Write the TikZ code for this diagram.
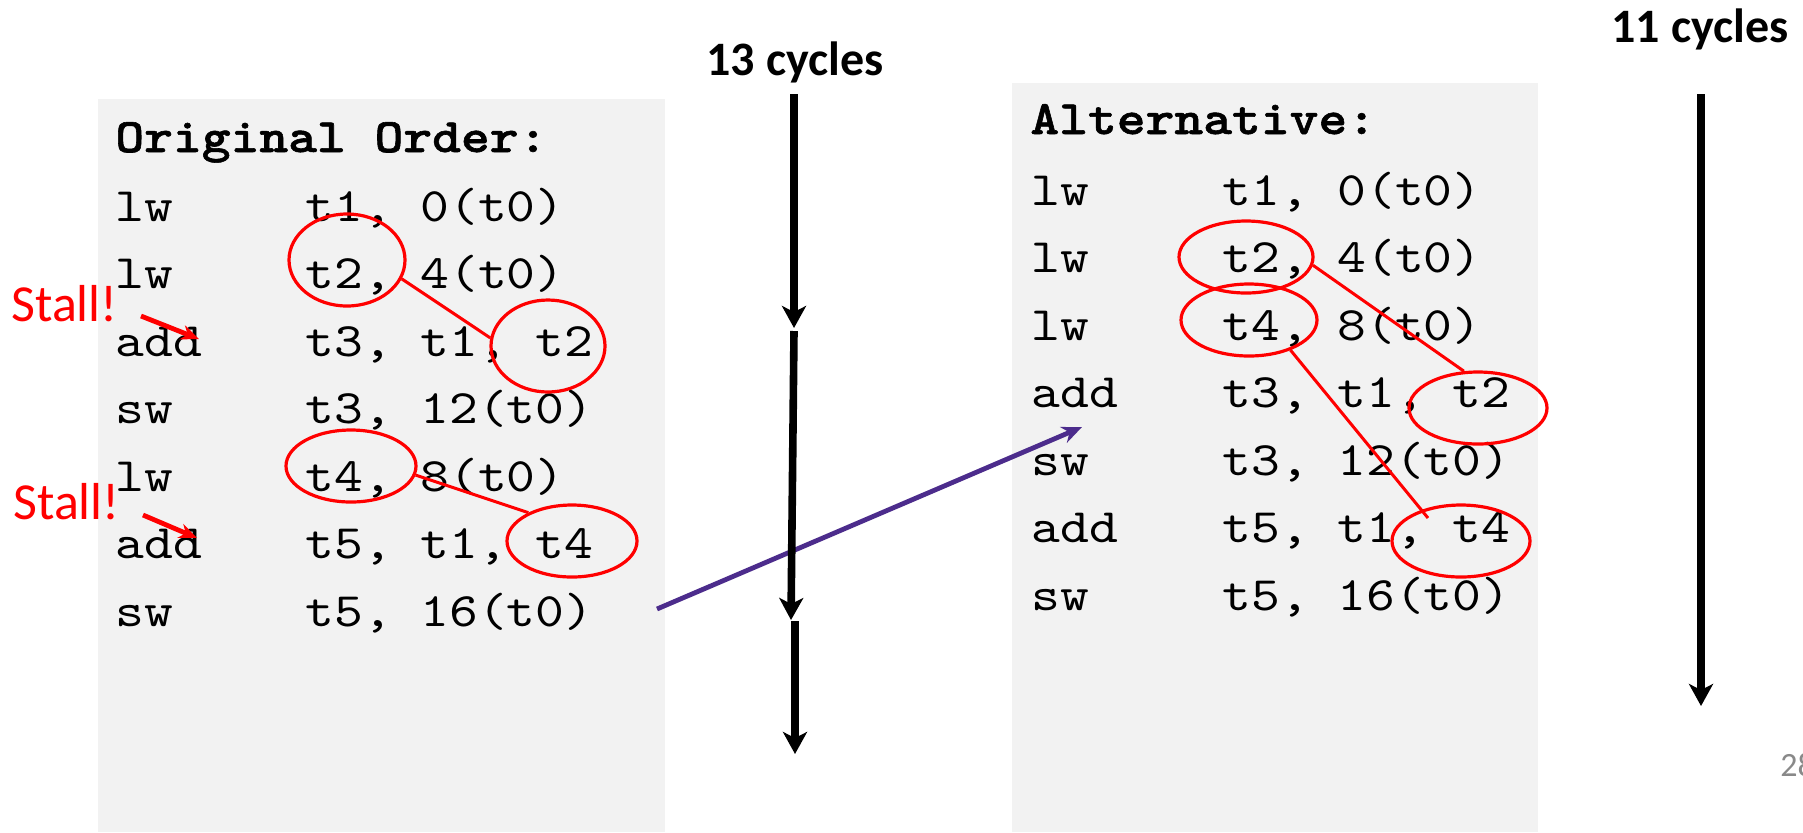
\documentclass[tikz,border=0pt]{standalone}
\usepackage{fontspec}
\setmonofont[FakeStretch=1.143,BoldFont=lmmonolt10-bold.otf,BoldFeatures={FakeBold=1.2}]{lmmono10-regular.otf}
\newfontfamily\slidefont{Carlito}
\usetikzlibrary{arrows.meta,shapes.geometric}
\definecolor{boxgray}{RGB}{242,242,242}
\definecolor{linkpurple}{RGB}{76,44,140}
\definecolor{pagegray}{RGB}{137,137,137}

\begin{document}
\begin{tikzpicture}[x=0.5pt,y=-0.5pt,
        code/.style={anchor=base west,inner sep=0pt,font=\ttfamily\fontsize{24}{24}\selectfont},
        head/.style={anchor=base west,inner sep=0pt,font=\ttfamily\bfseries\fontsize{24}{24}\selectfont},
        dep/.style={ellipse,draw=red,line width=1.6pt,inner sep=0pt},
        deplink/.style={red,line width=1.5pt},
        cycles/.style={anchor=base,inner sep=0pt,font=\slidefont\bfseries\fontsize{24}{24}\selectfont},
        stall/.style={anchor=base west,inner sep=0pt,text=red,font=\slidefont\fontsize{26}{26}\selectfont},
        stallarrow/.style={red,line width=2.4pt,-{Stealth[length=9pt,width=7.5pt]}},
        timeline/.style={line width=3.8pt,-{Stealth[length=11pt,width=12pt,inset=3pt]}}]
    \useasboundingbox (0,0) rectangle (1803,832);
    % the two code panels
    \fill[boxgray] (98,99) rectangle (665,832);
    \fill[boxgray] (1012,83) rectangle (1538,832);

    % original order
    \node[head] (lhead) at (115,152) {Original Order:};
    \node[code] (lm1) at (115,221) {lw};    \node[code] (lo1) at (305,221) {t1, 0(t0)};
    \node[code] (lm2) at (115,288.5) {lw};  \node[code] (lo2) at (305,288.5) {t2, 4(t0)};
    \node[code] (lm3) at (115,356) {add};   \node[code] (lo3) at (305,356) {t3, t1, t2};
    \node[code] (lm4) at (115,423.5) {sw};  \node[code] (lo4) at (305,423.5) {t3, 12(t0)};
    \node[code] (lm5) at (115,491) {lw};    \node[code] (lo5) at (305,491) {t4, 8(t0)};
    \node[code] (lm6) at (115,558.5) {add}; \node[code] (lo6) at (305,558.5) {t5, t1, t4};
    \node[code] (lm7) at (115,626) {sw};    \node[code] (lo7) at (305,626) {t5, 16(t0)};

    % alternative order
    \node[head] (rhead) at (1030,134) {Alternative:};
    \node[code] (rm1) at (1031,205) {lw};    \node[code] (ro1) at (1222,205) {t1, 0(t0)};
    \node[code] (rm2) at (1031,272.5) {lw};  \node[code] (ro2) at (1222,272.5) {t2, 4(t0)};
    \node[code] (rm3) at (1031,340) {lw};    \node[code] (ro3) at (1222,340) {t4, 8(t0)};
    \node[code] (rm4) at (1031,407.5) {add}; \node[code] (ro4) at (1222,407.5) {t3, t1, t2};
    \node[code] (rm5) at (1031,475) {sw};    \node[code] (ro5) at (1222,475) {t3, 12(t0)};
    \node[code] (rm6) at (1031,542.5) {add}; \node[code] (ro6) at (1222,542.5) {t5, t1, t4};
    \node[code] (rm7) at (1031,610) {sw};    \node[code] (ro7) at (1222,610) {t5, 16(t0)};

    % load-use dependences, left
    \node[dep,minimum width=58pt,minimum height=46pt] (lt2a) at (347,260) {};
    \node[dep,minimum width=57pt,minimum height=46pt] (lt2b) at (548,346) {};
    \node[dep,minimum width=65pt,minimum height=36pt] (lt4a) at (351,466) {};
    \node[dep,minimum width=65pt,minimum height=36pt] (lt4b) at (572,541) {};
    \draw[deplink] (lt2a.-19) -- (lt2b.172);
    \draw[deplink] (lt4a.-8) -- (lt4b.147);

    % load-use dependences, right
    \node[dep,minimum width=67pt,minimum height=36pt] (rt2a) at (1246,257) {};
    \node[dep,minimum width=68pt,minimum height=36pt] (rt4a) at (1249,320) {};
    \node[dep,minimum width=69pt,minimum height=36pt] (rt2b) at (1478,408) {};
    \node[dep,minimum width=69pt,minimum height=36pt] (rt4b) at (1461,541) {};
    \coordinate (rt4end) at (1428,518);
    \draw[deplink] (rt2a.-7) -- (rt2b.111);
    \draw[deplink] (rt4a.-36) -- (rt4end);

    % stalls
    \node[stall] (stall1) at (11,321) {Stall!};
    \node[stall] (stall2) at (13,519) {Stall!};
    \coordinate (s1) at (141,316);
    \coordinate (s1t) at (199,339);
    \coordinate (s2) at (143,515);
    \coordinate (s2t) at (197,538);
    \draw[stallarrow] (s1) -- (s1t);
    \draw[stallarrow] (s2) -- (s2t);

    % reorder arrow
    \coordinate (p0) at (657,609);
    \coordinate (p1) at (1082,427);
    \draw[linkpurple,line width=2.4pt,-{Stealth[length=10pt,width=8.5pt]}] (p0) -- (p1);

    % cycle counts
    \node[cycles] (cyc13) at (795,75) {13 cycles};
    \node[cycles] (cyc11) at (1700,42) {11 cycles};
    \coordinate (a0) at (794,94);
    \coordinate (a1) at (794,328);
    \coordinate (a2) at (794,331);
    \coordinate (a3) at (791,620);
    \coordinate (a4) at (795,621);
    \coordinate (a5) at (795,754);
    \draw[timeline] (a0) -- (a1);
    \draw[timeline] (a2) -- (a3);
    \draw[timeline] (a4) -- (a5);
    \coordinate (b0) at (1701,94);
    \coordinate (b1) at (1701,706);
    \draw[timeline] (b0) -- (b1);

    \node[anchor=base west,inner sep=0pt,text=pagegray,font=\slidefont\fontsize{17}{17}\selectfont] (pnum) at (1780,776) {28};
\end{tikzpicture}
\end{document}
